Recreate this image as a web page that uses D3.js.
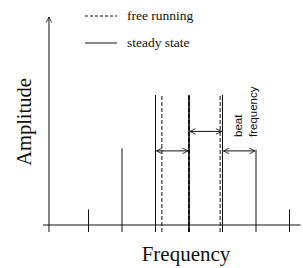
<!DOCTYPE html>
<html>
<head>
<meta charset="utf-8">
<script src="https://cdn.jsdelivr.net/npm/d3@7"></script>
<style>
body { margin: 0; background: #fff; }
svg { display: block; }
</style>
</head>
<body>
<svg width="303" height="268"></svg>
<script>
// steady state modes (mode number, amplitude)
var steadyModes = [-3, -2, -1, 0, 1, 2, 3];
var steadyAmps = [0.12, 0.59, 1, 1, 1, 0.58, 0.12];
// free running modes
var freeModes = [-0.81, 0, 0.93];
var freeAmps = [1, 1, 1];
// beat frequency arrows: from mode, to mode, height
var arrowFrom = [-1, 0, 1];
var arrowTo = [0, 1, 2];
var arrowAmp = [0.57, 0.72, 0.57];
var legendLabels = ["free running", "steady state"];

var svg = d3.select("svg"),
    ink = "#111";

var x = d3.scaleLinear().domain([-1, 1]).range([155.5, 222.5]);
var y = d3.scaleLinear().domain([0, 1.6]).range([225, 17]);

var defs = svg.append("defs");
defs.append("marker")
    .attr("id", "head")
    .attr("viewBox", "0 0 10 10")
    .attr("refX", 9).attr("refY", 5)
    .attr("markerWidth", 7).attr("markerHeight", 7)
    .attr("orient", "auto-start-reverse")
  .append("path")
    .attr("d", "M1,1 L9,5 L1,9")
    .attr("fill", "none")
    .attr("stroke", ink)
    .attr("stroke-width", 1.2);

// baseline
svg.append("line")
    .attr("x1", x(-4.36)).attr("x2", x(3.33))
    .attr("y1", y(0)).attr("y2", y(0))
    .attr("stroke", ink).attr("stroke-width", 1);

// y axis with arrow
svg.append("line")
    .attr("x1", x(-4.18)).attr("x2", x(-4.18))
    .attr("y1", y(0) + 7).attr("y2", y(1.6))
    .attr("stroke", ink).attr("stroke-width", 1)
    .attr("marker-end", "url(#head)");

// steady state lines
svg.append("g").selectAll("line")
    .data(steadyModes)
    .enter().append("line")
      .attr("x1", function(d) { return x(d); })
      .attr("x2", function(d) { return x(d); })
      .attr("y1", y(0) + 7)
      .attr("y2", function(d, i) { return y(steadyAmps[i]); })
      .attr("stroke", ink)
      .attr("stroke-width", function(d) { return d == 0 ? 1.6 : 1; });

// free running lines
svg.append("g").selectAll("line")
    .data(freeModes)
    .enter().append("line")
      .attr("x1", function(d) { return x(d); })
      .attr("x2", function(d) { return x(d); })
      .attr("y1", y(0) + 7)
      .attr("y2", function(d, i) { return y(freeAmps[i]); })
      .attr("stroke", ink)
      .attr("stroke-width", function(d) { return d == 0 ? 2 : 1; })
      .attr("stroke-dasharray", "4,2");

// beat arrows
svg.append("g").selectAll("line")
    .data(arrowFrom)
    .enter().append("line")
      .attr("x1", function(d) { return x(d) + 1; })
      .attr("x2", function(d, i) { return x(arrowTo[i]) - 1; })
      .attr("y1", function(d, i) { return y(arrowAmp[i]); })
      .attr("y2", function(d, i) { return y(arrowAmp[i]); })
      .attr("stroke", ink).attr("stroke-width", 1)
      .attr("marker-start", "url(#head)")
      .attr("marker-end", "url(#head)");

// beat frequency label
var beat = svg.append("text")
    .attr("transform", "translate(" + (x(1.4) + 6) + "," + 137 + ") rotate(-90)")
    .attr("font-family", "Liberation Sans, Arial, sans-serif")
    .attr("font-size", 11.5)
    .attr("fill", ink);
beat.append("tspan").attr("x", 0).attr("dy", 0).text("beat");
beat.append("tspan").attr("x", 0).attr("dy", 15).text("frequency");

// legend
var legend = svg.append("g");
legendLabels.forEach(function(lab, i) {
  var ly = 16 + i * 27;
  legend.append("line")
      .attr("x1", 85).attr("x2", 117)
      .attr("y1", ly).attr("y2", ly)
      .attr("stroke", ink).attr("stroke-width", 1)
      .attr("stroke-dasharray", i == 0 ? "3,2" : null);
  legend.append("text")
      .attr("x", 127).attr("y", ly + 4)
      .attr("font-family", "Liberation Serif, Times New Roman, serif")
      .attr("font-size", 13.5)
      .attr("fill", ink)
      .text(lab);
});

// axis titles
svg.append("text")
    .attr("x", 186).attr("y", 261)
    .attr("text-anchor", "middle")
    .attr("font-family", "Liberation Serif, Times New Roman, serif")
    .attr("font-size", 21)
    .attr("fill", ink)
    .text("Frequency");

svg.append("text")
    .attr("transform", "translate(31,122) rotate(-90)")
    .attr("text-anchor", "middle")
    .attr("font-family", "Liberation Serif, Times New Roman, serif")
    .attr("font-size", 20.5)
    .attr("fill", ink)
    .text("Amplitude");
</script>
</body>
</html>
